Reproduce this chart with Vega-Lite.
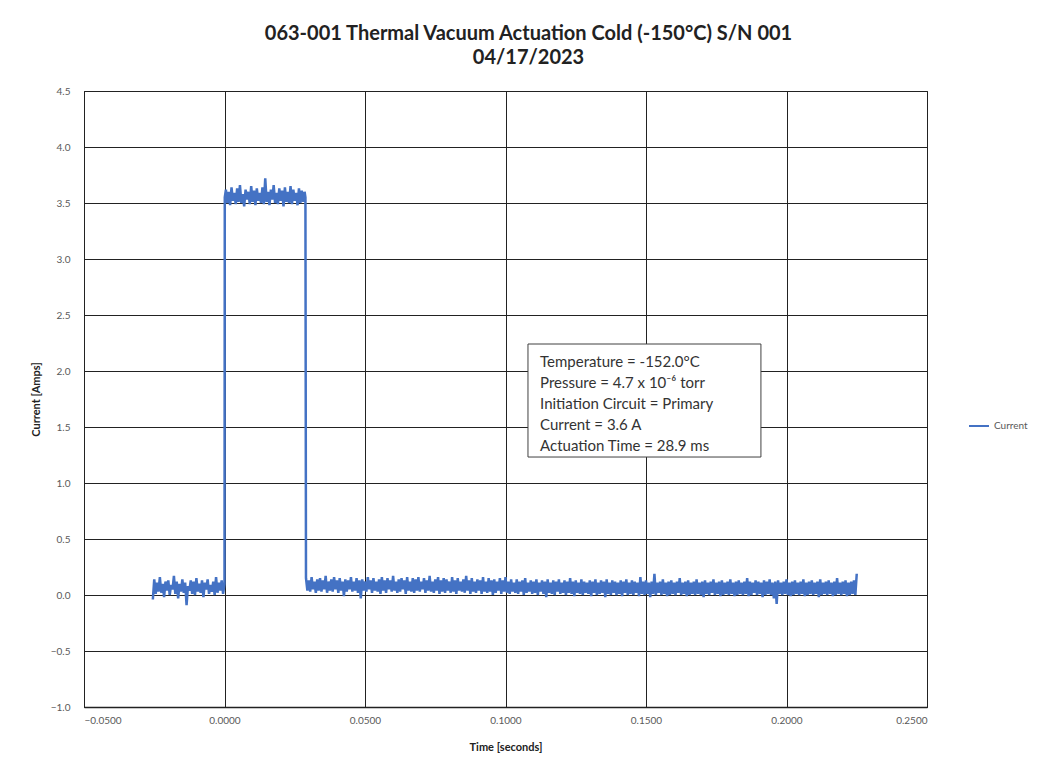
{
"$schema":"https://vega.github.io/schema/vega-lite/v6.json",
"width":843,"height":616,
"autosize":{"type":"none"},
"padding":{"left":84,"top":91,"right":130,"bottom":66},
"background":"white",
"title":{"text":["063-001 Thermal Vacuum Actuation Cold (-150°C) S/N 001","04/17/2023"],"anchor":"middle","frame":"group","dx":23,"offset":18,"font":"Lato","fontSize":20,"fontWeight":"bold","color":"#222222","lineHeight":24},
"config":{"view":{"stroke":"#222222","strokeWidth":1},"font":"Lato"},
"datasets":{"cur":[
{"t":-0.0255,"c":-0.04},{"t":-0.025,"c":0.14},{"t":-0.0245,"c":0.01},{"t":-0.024,"c":0.11},{"t":-0.0235,"c":0.03},{"t":-0.023,"c":0.16},{"t":-0.0225,"c":0.02},{"t":-0.022,"c":0.10},{"t":-0.0215,"c":-0.02},{"t":-0.021,"c":0.12},
{"t":-0.0205,"c":0.04},{"t":-0.02,"c":0.13},{"t":-0.0195,"c":0.00},{"t":-0.019,"c":0.09},{"t":-0.0185,"c":0.05},{"t":-0.018,"c":0.17},{"t":-0.0175,"c":0.01},{"t":-0.017,"c":0.12},{"t":-0.0165,"c":-0.03},{"t":-0.016,"c":0.10},
{"t":-0.0155,"c":0.03},{"t":-0.015,"c":0.14},{"t":-0.0145,"c":0.02},{"t":-0.014,"c":0.11},{"t":-0.0135,"c":-0.09},{"t":-0.013,"c":0.08},{"t":-0.0125,"c":0.04},{"t":-0.012,"c":0.13},{"t":-0.0115,"c":0.01},{"t":-0.011,"c":0.12},
{"t":-0.0105,"c":0.00},{"t":-0.01,"c":0.15},{"t":-0.0095,"c":0.03},{"t":-0.009,"c":0.10},{"t":-0.0085,"c":0.02},{"t":-0.008,"c":0.13},{"t":-0.0075,"c":-0.02},{"t":-0.007,"c":0.11},{"t":-0.0065,"c":0.05},{"t":-0.006,"c":0.14},
{"t":-0.0055,"c":0.01},{"t":-0.005,"c":0.09},{"t":-0.0045,"c":0.03},{"t":-0.004,"c":0.12},{"t":-0.0035,"c":0.00},{"t":-0.003,"c":0.16},{"t":-0.0025,"c":0.02},{"t":-0.002,"c":0.11},{"t":-0.0015,"c":0.04},{"t":-0.001,"c":0.13},
{"t":-0.0005,"c":0.01},{"t":0.0,"c":0.10},{"t":0.0001,"c":3.55},
{"t":0.0005,"c":3.62},{"t":0.001,"c":3.50},{"t":0.0015,"c":3.60},{"t":0.002,"c":3.48},{"t":0.0025,"c":3.64},{"t":0.003,"c":3.52},{"t":0.0035,"c":3.59},{"t":0.004,"c":3.49},{"t":0.0045,"c":3.63},{"t":0.005,"c":3.51},
{"t":0.0055,"c":3.66},{"t":0.006,"c":3.50},{"t":0.0065,"c":3.58},{"t":0.007,"c":3.47},{"t":0.0075,"c":3.62},{"t":0.008,"c":3.53},{"t":0.0085,"c":3.60},{"t":0.009,"c":3.49},{"t":0.0095,"c":3.65},{"t":0.01,"c":3.51},
{"t":0.0105,"c":3.61},{"t":0.011,"c":3.48},{"t":0.0115,"c":3.63},{"t":0.012,"c":3.52},{"t":0.0125,"c":3.59},{"t":0.013,"c":3.50},{"t":0.0135,"c":3.64},{"t":0.014,"c":3.49},{"t":0.0145,"c":3.72},{"t":0.015,"c":3.51},
{"t":0.0155,"c":3.60},{"t":0.016,"c":3.48},{"t":0.0165,"c":3.62},{"t":0.017,"c":3.53},{"t":0.0175,"c":3.66},{"t":0.018,"c":3.50},{"t":0.0185,"c":3.59},{"t":0.019,"c":3.49},{"t":0.0195,"c":3.63},{"t":0.02,"c":3.52},
{"t":0.0205,"c":3.61},{"t":0.021,"c":3.47},{"t":0.0215,"c":3.64},{"t":0.022,"c":3.51},{"t":0.0225,"c":3.60},{"t":0.023,"c":3.50},{"t":0.0235,"c":3.65},{"t":0.024,"c":3.49},{"t":0.0245,"c":3.62},{"t":0.025,"c":3.52},
{"t":0.0255,"c":3.59},{"t":0.026,"c":3.48},{"t":0.0265,"c":3.63},{"t":0.027,"c":3.50},{"t":0.0275,"c":3.61},{"t":0.028,"c":3.51},{"t":0.0285,"c":3.60},{"t":0.0288,"c":3.55},
{"t":0.029,"c":0.15},{"t":0.0295,"c":0.04},{"t":0.03,"c":0.13},{"t":0.0305,"c":0.03},{"t":0.031,"c":0.16},{"t":0.0315,"c":0.05},{"t":0.032,"c":0.12},{"t":0.0325,"c":0.02},{"t":0.033,"c":0.14},{"t":0.0335,"c":0.04},
{"t":0.034,"c":0.15},{"t":0.0345,"c":0.03},{"t":0.035,"c":0.13},{"t":0.0355,"c":0.05},{"t":0.036,"c":0.17},{"t":0.0365,"c":0.02},{"t":0.037,"c":0.12},{"t":0.0375,"c":0.04},{"t":0.038,"c":0.14},{"t":0.0385,"c":0.03},
{"t":0.039,"c":0.16},{"t":0.0395,"c":0.05},{"t":0.04,"c":0.13},{"t":0.0405,"c":0.02},{"t":0.041,"c":0.15},{"t":0.0415,"c":0.04},{"t":0.042,"c":0.12},{"t":0.0425,"c":-0.01},{"t":0.043,"c":0.14},{"t":0.0435,"c":0.03},
{"t":0.044,"c":0.13},{"t":0.0445,"c":0.05},{"t":0.045,"c":0.16},{"t":0.0455,"c":0.03},{"t":0.046,"c":0.12},{"t":0.0465,"c":0.04},{"t":0.047,"c":0.15},{"t":0.0475,"c":0.02},{"t":0.048,"c":0.13},{"t":0.0485,"c":-0.03},
{"t":0.049,"c":0.14},{"t":0.0495,"c":0.04},{"t":0.05,"c":0.12},{"t":0.0505,"c":0.03},{"t":0.051,"c":0.16},{"t":0.0515,"c":0.05},{"t":0.052,"c":0.13},{"t":0.0525,"c":0.02},{"t":0.053,"c":0.15},{"t":0.0535,"c":0.04},
{"t":0.054,"c":0.12},{"t":0.0545,"c":0.03},{"t":0.055,"c":0.14},{"t":0.0555,"c":0.01},{"t":0.056,"c":0.16},{"t":0.0565,"c":0.04},{"t":0.057,"c":0.13},{"t":0.0575,"c":0.02},{"t":0.058,"c":0.15},{"t":0.0585,"c":0.05},
{"t":0.059,"c":0.13},{"t":0.0595,"c":0.03},{"t":0.06,"c":0.17},{"t":0.0605,"c":0.04},{"t":0.061,"c":0.12},{"t":0.0615,"c":0.02},{"t":0.062,"c":0.14},{"t":0.0625,"c":0.03},{"t":0.063,"c":0.15},{"t":0.0635,"c":0.05},
{"t":0.064,"c":0.13},{"t":0.0645,"c":0.01},{"t":0.065,"c":0.16},{"t":0.0655,"c":0.04},{"t":0.066,"c":0.12},{"t":0.0665,"c":0.03},{"t":0.067,"c":0.15},{"t":0.0675,"c":0.02},{"t":0.068,"c":0.14},{"t":0.0685,"c":0.04},
{"t":0.069,"c":0.16},{"t":0.0695,"c":0.03},{"t":0.07,"c":0.12},{"t":0.0705,"c":0.05},{"t":0.071,"c":0.15},{"t":0.0715,"c":0.02},{"t":0.072,"c":0.13},{"t":0.0725,"c":0.04},{"t":0.073,"c":0.17},{"t":0.0735,"c":0.03},
{"t":0.074,"c":0.12},{"t":0.0745,"c":0.02},{"t":0.075,"c":0.14},{"t":0.0755,"c":0.04},{"t":0.076,"c":0.16},{"t":0.0765,"c":0.01},{"t":0.077,"c":0.13},{"t":0.0775,"c":0.03},{"t":0.078,"c":0.15},{"t":0.0785,"c":0.02},
{"t":0.079,"c":0.14},{"t":0.0795,"c":0.04},{"t":0.08,"c":0.12},{"t":0.0805,"c":0.02},{"t":0.081,"c":0.16},{"t":0.0815,"c":0.03},{"t":0.082,"c":0.13},{"t":0.0825,"c":0.01},{"t":0.083,"c":0.15},{"t":0.0835,"c":0.04},
{"t":0.084,"c":0.12},{"t":0.0845,"c":0.03},{"t":0.085,"c":0.14},{"t":0.0855,"c":0.02},{"t":0.086,"c":0.17},{"t":0.0865,"c":0.04},{"t":0.087,"c":0.13},{"t":0.0875,"c":0.01},{"t":0.088,"c":0.15},{"t":0.0885,"c":0.03},
{"t":0.089,"c":0.12},{"t":0.0895,"c":0.02},{"t":0.09,"c":0.14},{"t":0.0905,"c":0.04},{"t":0.091,"c":0.13},{"t":0.0915,"c":0.01},{"t":0.092,"c":0.16},{"t":0.0925,"c":0.03},{"t":0.093,"c":0.12},{"t":0.0935,"c":0.02},
{"t":0.094,"c":0.15},{"t":0.0945,"c":0.03},{"t":0.095,"c":0.13},{"t":0.0955,"c":0.00},{"t":0.096,"c":0.14},{"t":0.0965,"c":0.02},{"t":0.097,"c":0.12},{"t":0.0975,"c":0.04},{"t":0.098,"c":0.15},{"t":0.0985,"c":0.01},
{"t":0.099,"c":0.13},{"t":0.0995,"c":0.03},{"t":0.1,"c":0.16},{"t":0.1005,"c":0.02},{"t":0.101,"c":0.12},{"t":0.1015,"c":0.01},{"t":0.102,"c":0.14},{"t":0.1025,"c":0.03},{"t":0.103,"c":0.11},{"t":0.1035,"c":0.02},
{"t":0.104,"c":0.14},{"t":0.1045,"c":0.01},{"t":0.105,"c":0.12},{"t":0.1055,"c":0.03},{"t":0.106,"c":0.13},{"t":0.1065,"c":0.00},{"t":0.107,"c":0.15},{"t":0.1075,"c":0.02},{"t":0.108,"c":0.11},{"t":0.1085,"c":0.03},
{"t":0.109,"c":0.13},{"t":0.1095,"c":0.01},{"t":0.11,"c":0.12},{"t":0.1105,"c":0.02},{"t":0.111,"c":0.14},{"t":0.1115,"c":0.00},{"t":0.112,"c":0.11},{"t":0.1125,"c":0.03},{"t":0.113,"c":0.13},{"t":0.1135,"c":0.01},
{"t":0.114,"c":0.12},{"t":0.1145,"c":-0.02},{"t":0.115,"c":0.14},{"t":0.1155,"c":0.02},{"t":0.116,"c":0.11},{"t":0.1165,"c":0.01},{"t":0.117,"c":0.13},{"t":0.1175,"c":0.00},{"t":0.118,"c":0.12},{"t":0.1185,"c":0.03},
{"t":0.119,"c":0.14},{"t":0.1195,"c":0.01},{"t":0.12,"c":0.11},{"t":0.1205,"c":0.02},{"t":0.121,"c":0.13},{"t":0.1215,"c":0.00},{"t":0.122,"c":0.12},{"t":0.1225,"c":0.02},{"t":0.123,"c":0.15},{"t":0.1235,"c":0.01},
{"t":0.124,"c":0.12},{"t":0.1245,"c":-0.01},{"t":0.125,"c":0.13},{"t":0.1255,"c":0.02},{"t":0.126,"c":0.11},{"t":0.1265,"c":0.01},{"t":0.127,"c":0.14},{"t":0.1275,"c":0.00},{"t":0.128,"c":0.12},{"t":0.1285,"c":0.02},
{"t":0.129,"c":0.11},{"t":0.1295,"c":0.01},{"t":0.13,"c":0.13},{"t":0.1305,"c":-0.01},{"t":0.131,"c":0.12},{"t":0.1315,"c":0.02},{"t":0.132,"c":0.14},{"t":0.1325,"c":0.00},{"t":0.133,"c":0.11},{"t":0.1335,"c":0.01},
{"t":0.134,"c":0.13},{"t":0.1345,"c":0.02},{"t":0.135,"c":0.12},{"t":0.1355,"c":-0.02},{"t":0.136,"c":0.14},{"t":0.1365,"c":0.01},{"t":0.137,"c":0.11},{"t":0.1375,"c":0.00},{"t":0.138,"c":0.13},{"t":0.1385,"c":0.02},
{"t":0.139,"c":0.12},{"t":0.1395,"c":0.00},{"t":0.14,"c":0.11},{"t":0.1405,"c":0.01},{"t":0.141,"c":0.13},{"t":0.1415,"c":-0.01},{"t":0.142,"c":0.12},{"t":0.1425,"c":0.02},{"t":0.143,"c":0.14},{"t":0.1435,"c":0.00},
{"t":0.144,"c":0.11},{"t":0.1445,"c":0.01},{"t":0.145,"c":0.13},{"t":0.1455,"c":0.00},{"t":0.146,"c":0.12},{"t":0.1465,"c":0.02},{"t":0.147,"c":0.11},{"t":0.1475,"c":-0.01},{"t":0.148,"c":0.16},{"t":0.1485,"c":0.01},
{"t":0.149,"c":0.12},{"t":0.1495,"c":0.00},{"t":0.15,"c":0.13},{"t":0.1505,"c":0.01},{"t":0.151,"c":0.11},{"t":0.1515,"c":-0.02},{"t":0.152,"c":0.12},{"t":0.1525,"c":0.01},{"t":0.153,"c":0.19},{"t":0.1535,"c":0.00},
{"t":0.154,"c":0.11},{"t":0.1545,"c":0.02},{"t":0.155,"c":0.12},{"t":0.1555,"c":0.00},{"t":0.156,"c":0.14},{"t":0.1565,"c":0.01},{"t":0.157,"c":0.11},{"t":0.1575,"c":-0.01},{"t":0.158,"c":0.12},{"t":0.1585,"c":0.00},
{"t":0.159,"c":0.13},{"t":0.1595,"c":0.01},{"t":0.16,"c":0.11},{"t":0.1605,"c":0.00},{"t":0.161,"c":0.12},{"t":0.1615,"c":0.02},{"t":0.162,"c":0.15},{"t":0.1625,"c":0.00},{"t":0.163,"c":0.11},{"t":0.1635,"c":0.01},
{"t":0.164,"c":0.12},{"t":0.1645,"c":-0.01},{"t":0.165,"c":0.13},{"t":0.1655,"c":0.00},{"t":0.166,"c":0.11},{"t":0.1665,"c":0.01},{"t":0.167,"c":0.12},{"t":0.1675,"c":0.00},{"t":0.168,"c":0.14},{"t":0.1685,"c":0.01},
{"t":0.169,"c":0.11},{"t":0.1695,"c":0.00},{"t":0.17,"c":0.12},{"t":0.1705,"c":-0.02},{"t":0.171,"c":0.13},{"t":0.1715,"c":0.01},{"t":0.172,"c":0.11},{"t":0.1725,"c":0.00},{"t":0.173,"c":0.12},{"t":0.1735,"c":0.02},
{"t":0.174,"c":0.14},{"t":0.1745,"c":0.00},{"t":0.175,"c":0.11},{"t":0.1755,"c":0.01},{"t":0.176,"c":0.12},{"t":0.1765,"c":-0.01},{"t":0.177,"c":0.13},{"t":0.1775,"c":0.00},{"t":0.178,"c":0.11},{"t":0.1785,"c":0.01},
{"t":0.179,"c":0.12},{"t":0.1795,"c":0.00},{"t":0.18,"c":0.14},{"t":0.1805,"c":0.01},{"t":0.181,"c":0.11},{"t":0.1815,"c":-0.01},{"t":0.182,"c":0.12},{"t":0.1825,"c":0.00},{"t":0.183,"c":0.13},{"t":0.1835,"c":0.01},
{"t":0.184,"c":0.11},{"t":0.1845,"c":0.00},{"t":0.185,"c":0.12},{"t":0.1855,"c":0.01},{"t":0.186,"c":0.15},{"t":0.1865,"c":-0.01},{"t":0.187,"c":0.12},{"t":0.1875,"c":0.00},{"t":0.188,"c":0.11},{"t":0.1885,"c":0.02},
{"t":0.189,"c":0.13},{"t":0.1895,"c":0.00},{"t":0.19,"c":0.12},{"t":0.1905,"c":0.01},{"t":0.191,"c":0.11},{"t":0.1915,"c":-0.02},{"t":0.192,"c":0.13},{"t":0.1925,"c":0.00},{"t":0.193,"c":0.12},{"t":0.1935,"c":0.01},
{"t":0.194,"c":0.14},{"t":0.1945,"c":0.00},{"t":0.195,"c":0.11},{"t":0.1955,"c":-0.03},{"t":0.196,"c":0.12},{"t":0.1965,"c":-0.08},{"t":0.197,"c":0.13},{"t":0.1975,"c":0.01},{"t":0.198,"c":0.11},{"t":0.1985,"c":0.00},
{"t":0.199,"c":0.12},{"t":0.1995,"c":0.01},{"t":0.2,"c":0.14},{"t":0.2005,"c":0.00},{"t":0.201,"c":0.11},{"t":0.2015,"c":-0.01},{"t":0.202,"c":0.12},{"t":0.2025,"c":0.00},{"t":0.203,"c":0.13},{"t":0.2035,"c":0.01},
{"t":0.204,"c":0.11},{"t":0.2045,"c":0.00},{"t":0.205,"c":0.12},{"t":0.2055,"c":0.01},{"t":0.206,"c":0.14},{"t":0.2065,"c":-0.01},{"t":0.207,"c":0.11},{"t":0.2075,"c":0.00},{"t":0.208,"c":0.12},{"t":0.2085,"c":0.01},
{"t":0.209,"c":0.13},{"t":0.2095,"c":0.00},{"t":0.21,"c":0.11},{"t":0.2105,"c":0.01},{"t":0.211,"c":0.12},{"t":0.2115,"c":-0.02},{"t":0.212,"c":0.14},{"t":0.2125,"c":0.00},{"t":0.213,"c":0.11},{"t":0.2135,"c":0.01},
{"t":0.214,"c":0.12},{"t":0.2145,"c":0.00},{"t":0.215,"c":0.13},{"t":0.2155,"c":0.01},{"t":0.216,"c":0.11},{"t":0.2165,"c":-0.01},{"t":0.217,"c":0.12},{"t":0.2175,"c":0.00},{"t":0.218,"c":0.15},{"t":0.2185,"c":0.01},
{"t":0.219,"c":0.11},{"t":0.2195,"c":0.00},{"t":0.22,"c":0.12},{"t":0.2205,"c":0.01},{"t":0.221,"c":0.13},{"t":0.2215,"c":-0.01},{"t":0.222,"c":0.11},{"t":0.2225,"c":0.00},{"t":0.223,"c":0.12},{"t":0.2235,"c":0.01},
{"t":0.224,"c":0.13},{"t":0.2245,"c":0.00},{"t":0.225,"c":0.19}
],
"note":[{"label":"info"}]},
"layer":[
{"data":{"name":"cur"},
 "mark":{"type":"line","strokeWidth":2.5,"clip":true},
 "encoding":{
  "x":{"field":"t","type":"quantitative","scale":{"domain":[-0.05,0.25],"nice":false,"zero":false},
   "axis":{"title":"Time [seconds]","values":[-0.05,0,0.05,0.1,0.15,0.2,0.25],"format":".4f","labelFont":"Lato","labelFontSize":10,"labelColor":"#595959","labelPadding":8,"ticks":false,"domainColor":"#222222","domainWidth":1.5,"gridColor":"#222222","gridWidth":1,"gridOpacity":1,"titleFont":"Lato","titleFontSize":11,"titleFontWeight":"bold","titleColor":"#222222","titlePadding":16}},
  "y":{"field":"c","type":"quantitative","scale":{"domain":[-1,4.5],"nice":false,"zero":false},
   "axis":{"title":"Current [Amps]","values":[-1,-0.5,0,0.5,1,1.5,2,2.5,3,3.5,4,4.5],"format":".1f","labelFont":"Lato","labelFontSize":10,"labelColor":"#595959","labelPadding":14,"ticks":false,"domainColor":"#222222","domainWidth":1,"gridColor":"#222222","gridWidth":1,"gridOpacity":1,"titleFont":"Lato","titleFontSize":11,"titleFontWeight":"bold","titleColor":"#222222","titlePadding":9}},
  "color":{"datum":"Current","type":"nominal","scale":{"range":["#4472C4"]},
   "legend":{"title":null,"orient":"none","legendX":884,"legendY":324,"symbolType":"stroke","symbolStrokeWidth":2,"symbolSize":400,"labelFont":"Lato","labelFontSize":10,"labelColor":"#595959"}}
 }},
{"data":{"name":"note"},
 "mark":{"type":"rect","fill":"white","stroke":"#404040","strokeWidth":1},
 "encoding":{"x":{"datum":0.108},"x2":{"datum":0.1909},"y":{"datum":2.241},"y2":{"datum":1.232}}},
{"data":{"name":"note"},
 "mark":{"type":"text","align":"left","baseline":"top","font":"Lato","fontSize":15,"lineHeight":21,"color":"#333333",
  "text":["Temperature = -152.0°C","Pressure = 4.7 x 10⁻⁶ torr","Initiation Circuit = Primary","Current = 3.6 A","Actuation Time = 28.9 ms"]},
 "encoding":{"x":{"datum":0.1123},"y":{"datum":2.147}}}
]
}
